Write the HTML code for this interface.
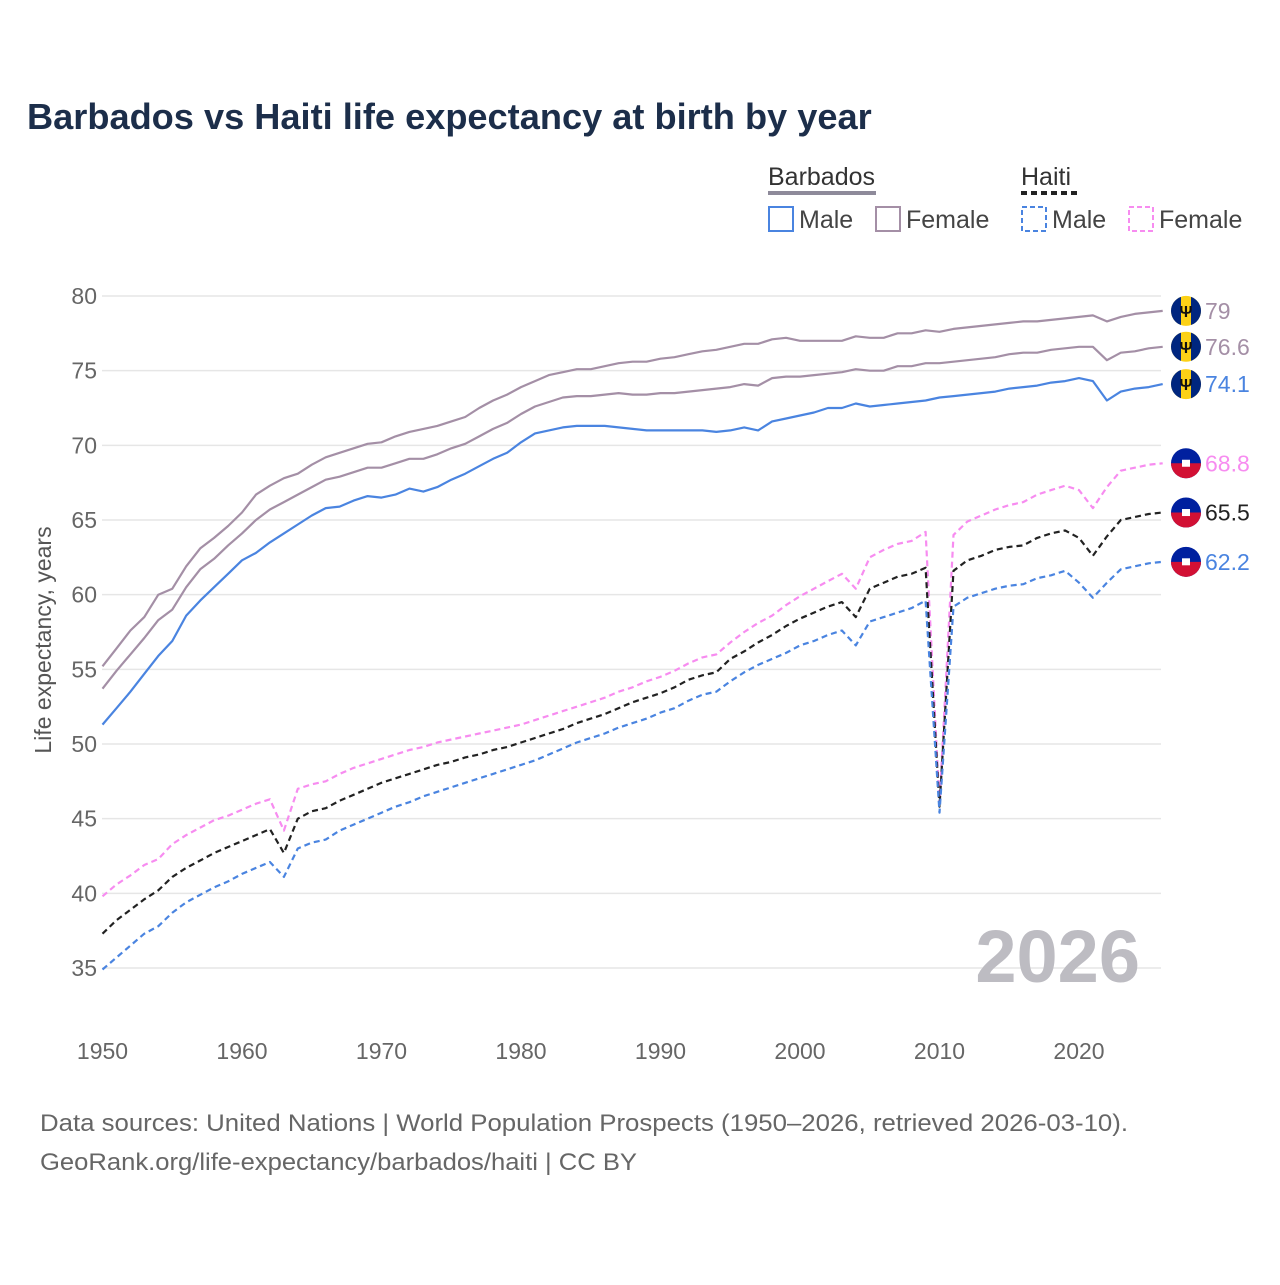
<!DOCTYPE html>
<html><head><meta charset="utf-8">
<style>
body{margin:0;background:#fff;font-family:"Liberation Sans",sans-serif;}
svg text{font-family:"Liberation Sans",sans-serif;}
</style></head>
<body>
<svg id="chart" width="1280" height="1280" viewBox="0 0 1280 1280" xmlns="http://www.w3.org/2000/svg">
<rect width="1280" height="1280" fill="#fff"/>
<text x="27" y="129" font-size="36.2" font-weight="bold" fill="#1c2e4a">Barbados vs Haiti life expectancy at birth by year</text>
<g font-size="25" fill="#444">
<text x="768" y="185" fill="#333">Barbados</text>
<line x1="768" y1="193" x2="876" y2="193" stroke="#8e8a9a" stroke-width="4"/>
<rect x="769" y="207" width="24" height="24" fill="none" stroke="#4a84e0" stroke-width="2"/>
<text x="799" y="228">Male</text>
<rect x="876" y="207" width="24" height="24" fill="none" stroke="#a48fa6" stroke-width="2"/>
<text x="906" y="228">Female</text>
<text x="1021" y="185" fill="#333">Haiti</text>
<line x1="1021" y1="193" x2="1077" y2="193" stroke="#222" stroke-width="4" stroke-dasharray="6,4"/>
<rect x="1022" y="207" width="24" height="24" fill="none" stroke="#4a84e0" stroke-width="2" stroke-dasharray="5,3"/>
<text x="1052" y="228">Male</text>
<rect x="1129" y="207" width="24" height="24" fill="none" stroke="#f78cf0" stroke-width="2" stroke-dasharray="5,3"/>
<text x="1159" y="228">Female</text>
</g>
<text transform="translate(51,640) rotate(-90)" text-anchor="middle" font-size="23" fill="#555">Life expectancy, years</text>
<g id="grid"></g><g id="series"></g><g id="labels"></g>
<text x="1140" y="982" text-anchor="end" font-size="74" font-weight="bold" fill="#bdbcc2">2026</text>
<text x="40" y="1131" font-size="24" fill="#666" textLength="1088" lengthAdjust="spacingAndGlyphs">Data sources: United Nations | World Population Prospects (1950–2026, retrieved 2026-03-10).</text>
<text x="40" y="1170" font-size="24" fill="#666" textLength="597" lengthAdjust="spacingAndGlyphs">GeoRank.org/life-expectancy/barbados/haiti | CC BY</text>
</svg>
<script>
const yTicks=[35,40,45,50,55,60,65,70,75,80];
const xTicks=[1950,1960,1970,1980,1990,2000,2010,2020];
const startYear=1950;
const barbadosFemale=[55.2,56.4,57.6,58.5,60.0,60.4,61.9,63.1,63.8,64.6,65.5,66.7,67.3,67.8,68.1,68.7,69.2,69.5,69.8,70.1,70.2,70.6,70.9,71.1,71.3,71.6,71.9,72.5,73.0,73.4,73.9,74.3,74.7,74.9,75.1,75.1,75.3,75.5,75.6,75.6,75.8,75.9,76.1,76.3,76.4,76.6,76.8,76.8,77.1,77.2,77.0,77.0,77.0,77.0,77.3,77.2,77.2,77.5,77.5,77.7,77.6,77.8,77.9,78.0,78.1,78.2,78.3,78.3,78.4,78.5,78.6,78.7,78.3,78.6,78.8,78.9,79.0];
const barbadosTotal=[53.7,54.9,56.0,57.1,58.3,59.0,60.5,61.7,62.4,63.3,64.1,65.0,65.7,66.2,66.7,67.2,67.7,67.9,68.2,68.5,68.5,68.8,69.1,69.1,69.4,69.8,70.1,70.6,71.1,71.5,72.1,72.6,72.9,73.2,73.3,73.3,73.4,73.5,73.4,73.4,73.5,73.5,73.6,73.7,73.8,73.9,74.1,74.0,74.5,74.6,74.6,74.7,74.8,74.9,75.1,75.0,75.0,75.3,75.3,75.5,75.5,75.6,75.7,75.8,75.9,76.1,76.2,76.2,76.4,76.5,76.6,76.6,75.7,76.2,76.3,76.5,76.6];
const barbadosMale=[51.3,52.4,53.5,54.7,55.9,56.9,58.6,59.6,60.5,61.4,62.3,62.8,63.5,64.1,64.7,65.3,65.8,65.9,66.3,66.6,66.5,66.7,67.1,66.9,67.2,67.7,68.1,68.6,69.1,69.5,70.2,70.8,71.0,71.2,71.3,71.3,71.3,71.2,71.1,71.0,71.0,71.0,71.0,71.0,70.9,71.0,71.2,71.0,71.6,71.8,72.0,72.2,72.5,72.5,72.8,72.6,72.7,72.8,72.9,73.0,73.2,73.3,73.4,73.5,73.6,73.8,73.9,74.0,74.2,74.3,74.5,74.3,73.0,73.6,73.8,73.9,74.1];
const haitiFemale=[39.8,40.6,41.2,41.9,42.3,43.3,43.9,44.4,44.9,45.2,45.6,46.0,46.3,44.2,47.0,47.3,47.5,48.0,48.4,48.7,49.0,49.3,49.6,49.8,50.1,50.3,50.5,50.7,50.9,51.1,51.3,51.6,51.9,52.2,52.5,52.8,53.1,53.5,53.8,54.2,54.5,54.9,55.4,55.8,56.0,56.8,57.5,58.1,58.6,59.3,59.9,60.4,60.9,61.4,60.4,62.5,63.0,63.4,63.6,64.2,46.0,64.0,64.9,65.3,65.7,66.0,66.2,66.7,67.0,67.3,67.0,65.8,67.2,68.3,68.5,68.7,68.8];
const haitiTotal=[37.3,38.2,38.9,39.6,40.2,41.1,41.7,42.2,42.7,43.1,43.5,43.9,44.3,42.7,45.0,45.5,45.7,46.2,46.6,47.0,47.4,47.7,48.0,48.3,48.6,48.8,49.1,49.3,49.6,49.8,50.1,50.4,50.7,51.0,51.4,51.7,52.0,52.4,52.8,53.1,53.4,53.8,54.3,54.6,54.8,55.7,56.2,56.8,57.3,57.9,58.4,58.8,59.2,59.5,58.5,60.4,60.8,61.2,61.4,61.8,45.8,61.6,62.3,62.6,63.0,63.2,63.3,63.8,64.1,64.3,63.8,62.6,63.9,65.0,65.2,65.4,65.5];
const haitiMale=[34.9,35.7,36.5,37.3,37.8,38.7,39.4,39.9,40.4,40.8,41.3,41.7,42.1,41.1,43.0,43.4,43.6,44.2,44.6,45.0,45.4,45.8,46.1,46.5,46.8,47.1,47.4,47.7,48.0,48.3,48.6,48.9,49.3,49.7,50.1,50.4,50.7,51.1,51.4,51.7,52.1,52.4,52.9,53.3,53.5,54.2,54.8,55.3,55.7,56.1,56.6,56.9,57.3,57.6,56.6,58.2,58.5,58.8,59.1,59.6,45.4,59.2,59.8,60.1,60.4,60.6,60.7,61.1,61.3,61.6,60.8,59.8,60.8,61.7,61.9,62.1,62.2];

const NS="http://www.w3.org/2000/svg";
const X0=102.5,X1=1162.7,Y35=968,Y80=296;
const xs=y=>X0+(y-1950)*(X1-X0)/76;
const ys=v=>Y35-(v-35)*(Y35-Y80)/45;
function mk(tag,attrs,parent){const e=document.createElementNS(NS,tag);for(const k in attrs)e.setAttribute(k,attrs[k]);parent.appendChild(e);return e;}
const grid=document.getElementById('grid');
yTicks.forEach(t=>{
 const l=mk('line',{x1:102,x2:1161,y1:ys(t),y2:ys(t),stroke:'#e6e6e6','stroke-width':1.5},grid);
 
 
 const tx=mk('text',{x:97,y:ys(t)+8,'text-anchor':'end','font-size':23,fill:'#666'},grid);
 tx.textContent=t;
 
 
});
xTicks.forEach(t=>{
 const tx=mk('text',{x:xs(t),y:1059,'text-anchor':'middle','font-size':23,fill:'#666'},grid);
 tx.textContent=t;
 
 
});
const series=[
 {d:barbadosFemale,c:'#a48fa6',dash:null,name:'barbados-female-line',lab:'79',lc:'#a48fa6',flag:'bb'},
 {d:barbadosTotal,c:'#a48fa6',dash:null,name:'barbados-total-line',lab:'76.6',lc:'#a48fa6',flag:'bb'},
 {d:barbadosMale,c:'#4a84e0',dash:null,name:'barbados-male-line',lab:'74.1',lc:'#4a84e0',flag:'bb'},
 {d:haitiFemale,c:'#f78cf0',dash:'6,4',name:'haiti-female-line',lab:'68.8',lc:'#f78cf0',flag:'ht'},
 {d:haitiTotal,c:'#222',dash:'6,4',name:'haiti-total-line',lab:'65.5',lc:'#222',flag:'ht'},
 {d:haitiMale,c:'#4a84e0',dash:'6,4',name:'haiti-male-line',lab:'62.2',lc:'#4a84e0',flag:'ht'}
];
const sg=document.getElementById('series'),lg=document.getElementById('labels');
series.forEach(s=>{
 const pts=s.d.map((v,i)=>xs(startYear+i).toFixed(1)+','+ys(v).toFixed(1)).join(' ');
 const a={points:pts,fill:'none',stroke:s.c,'stroke-width':2.2,'stroke-linejoin':'round'};
 if(s.dash)a['stroke-dasharray']=s.dash;
 const p=mk('polyline',a,sg);
 
 
 const last=s.d[s.d.length-1], y=ys(last);
 const g=mk('g',{},lg);
 
 
 const cx=1186,r=15;
 if(s.flag==='bb'){
  mk('circle',{cx:cx,cy:y,r:r,fill:'#fcd116'},g);
  mk('path',{d:`M${cx-r} ${y} A${r} ${r} 0 0 1 ${cx-5} ${y-14.1} L${cx-5} ${y+14.1} A${r} ${r} 0 0 1 ${cx-r} ${y}Z`,fill:'#00267f'},g);
  mk('path',{d:`M${cx+r} ${y} A${r} ${r} 0 0 1 ${cx+5} ${y+14.1} L${cx+5} ${y-14.1} A${r} ${r} 0 0 1 ${cx+r} ${y}Z`,fill:'#00267f'},g);
  const t=mk('text',{x:cx,y:y+6,'text-anchor':'middle','font-size':16,'font-weight':'bold',fill:'#111'},g);t.textContent='Ψ';
 } else {
  mk('circle',{cx:cx,cy:y,r:r,fill:'#00209f'},g);
  mk('path',{d:`M${cx-r} ${y} A${r} ${r} 0 0 0 ${cx+r} ${y}Z`,fill:'#d21034'},g);
  mk('rect',{x:cx-4,y:y-3.5,width:8,height:7,fill:'#fff'},g);
 }
 const t=mk('text',{x:1205,y:y+8,'font-size':23,fill:s.lc},lg);
 t.textContent=s.lab;
 
 
});
</script>
</body></html>
